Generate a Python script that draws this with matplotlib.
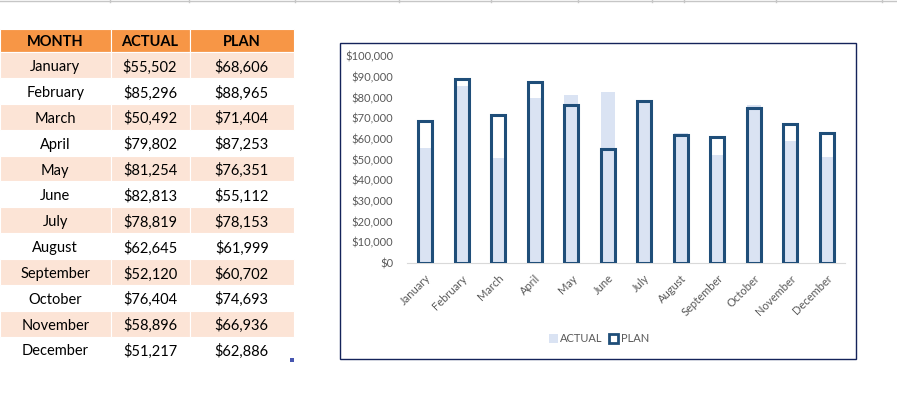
import numpy as np
import matplotlib.pyplot as plt
from matplotlib.patches import Rectangle, Patch

months = ["January", "February", "March", "April", "May", "June",
          "July", "August", "September", "October", "November", "December"]
actual = [55502, 85296, 50492, 79802, 81254, 82813,
          78819, 62645, 52120, 76404, 58896, 51217]
plan = [68606, 88965, 71404, 87253, 76351, 55112,
        78153, 61999, 60702, 74693, 66936, 62886]
headers = ["MONTH", "ACTUAL", "PLAN"]
y_ticks = list(range(0, 100001, 10000))

W, H = 897, 399
ORANGE = "#F79646"
STRIPE = "#FCE4D6"
LIGHT = "#DAE3F3"
NAVY = "#1F4E79"
GRAY = "#595959"

plt.rcParams['font.family'] = ['Lato', 'DejaVu Sans']

fig = plt.figure(figsize=(W / 100, H / 100), dpi=100)

# pixel canvas for the sheet part (y goes down)
bg = fig.add_axes([0, 0, 1, 1])
bg.set_xlim(0, W)
bg.set_ylim(H, 0)
bg.axis('off')

# spreadsheet grid remains at the very top
bg.plot([0, W], [1, 1], color="#C6C6C6", lw=1)
for gx in [110, 189, 295, 399, 491, 578, 652, 684, 776, 882]:
    bg.plot([gx, gx], [0, 1.5], color="#C6C6C6", lw=1)

# table
col_edges = [0, 110.5, 189.5, 294]
head_top, head_bot = 29.3, 52.2
row_h = 25.85
for j, h in enumerate(headers):
    x0, x1 = col_edges[j], col_edges[j + 1]
    bg.add_patch(Rectangle((x0, head_top), x1 - x0, head_bot - head_top,
                           facecolor=ORANGE, edgecolor="white", lw=0.8))
    bg.text((x0 + x1) / 2, (head_top + head_bot) / 2 + 1, h, ha="center",
            va="center", fontsize=10.5, fontweight="bold", color="black")

for i, m in enumerate(months):
    y0 = head_bot + i * row_h
    cells = [m, f"${actual[i]:,}", f"${plan[i]:,}"]
    for j, c in enumerate(cells):
        x0, x1 = col_edges[j], col_edges[j + 1]
        if i % 2 == 0:
            bg.add_patch(Rectangle((x0, y0), x1 - x0, row_h,
                                   facecolor=STRIPE, edgecolor="white", lw=0.8))
        bg.text((x0 + x1) / 2, y0 + row_h / 2 + 2, c, ha="center",
                va="center", fontsize=10.5, color="black")

# little table resize handle
bg.add_patch(Rectangle((290, 358), 4, 4, facecolor="#4756B0", edgecolor="none"))

# chart frame
bg.add_patch(Rectangle((340, 43), 516, 316, facecolor="none",
                       edgecolor="#14235A", lw=1))

# chart
ax = fig.add_axes([407 / W, (H - 263) / H, (845 - 407) / W, (263 - 56) / H])
x = np.arange(len(months))
bw = 0.37
ax.bar(x, actual, bw, color=LIGHT, zorder=1)
ax.bar(x, plan, bw, facecolor="none", edgecolor=NAVY, linewidth=2.2,
       joinstyle="miter", zorder=2)
ax.set_xlim(-0.5, len(months) - 0.5)
ax.set_ylim(0, 100000)
ax.set_yticks(y_ticks)
ax.set_yticklabels([f"${v:,}" for v in y_ticks])
ax.set_xticks(x)
ax.set_xticklabels(months, rotation=45, ha="right", va="top",
                   rotation_mode="anchor")
ax.tick_params(axis="y", length=0, pad=10, labelsize=8, labelcolor=GRAY)
ax.tick_params(axis="x", length=0, pad=7, labelsize=8, labelcolor=GRAY)
for s in ["top", "right", "left"]:
    ax.spines[s].set_visible(False)
ax.spines["bottom"].set_color("#D9D9D9")
ax.spines["bottom"].set_zorder(0)
ax.patch.set_alpha(0)

handles = [Patch(facecolor=LIGHT, edgecolor="none", label="ACTUAL"),
           Patch(facecolor="white", edgecolor=NAVY, linewidth=2, label="PLAN")]
fig.legend(handles=handles, loc="center", bbox_to_anchor=(599 / W, 1 - 339 / H),
           ncol=2, frameon=False, fontsize=8, labelcolor=GRAY,
           handlelength=0.8, handleheight=0.8, handletextpad=0.25,
           columnspacing=0.6)

fig.savefig("out.png", dpi=100)
